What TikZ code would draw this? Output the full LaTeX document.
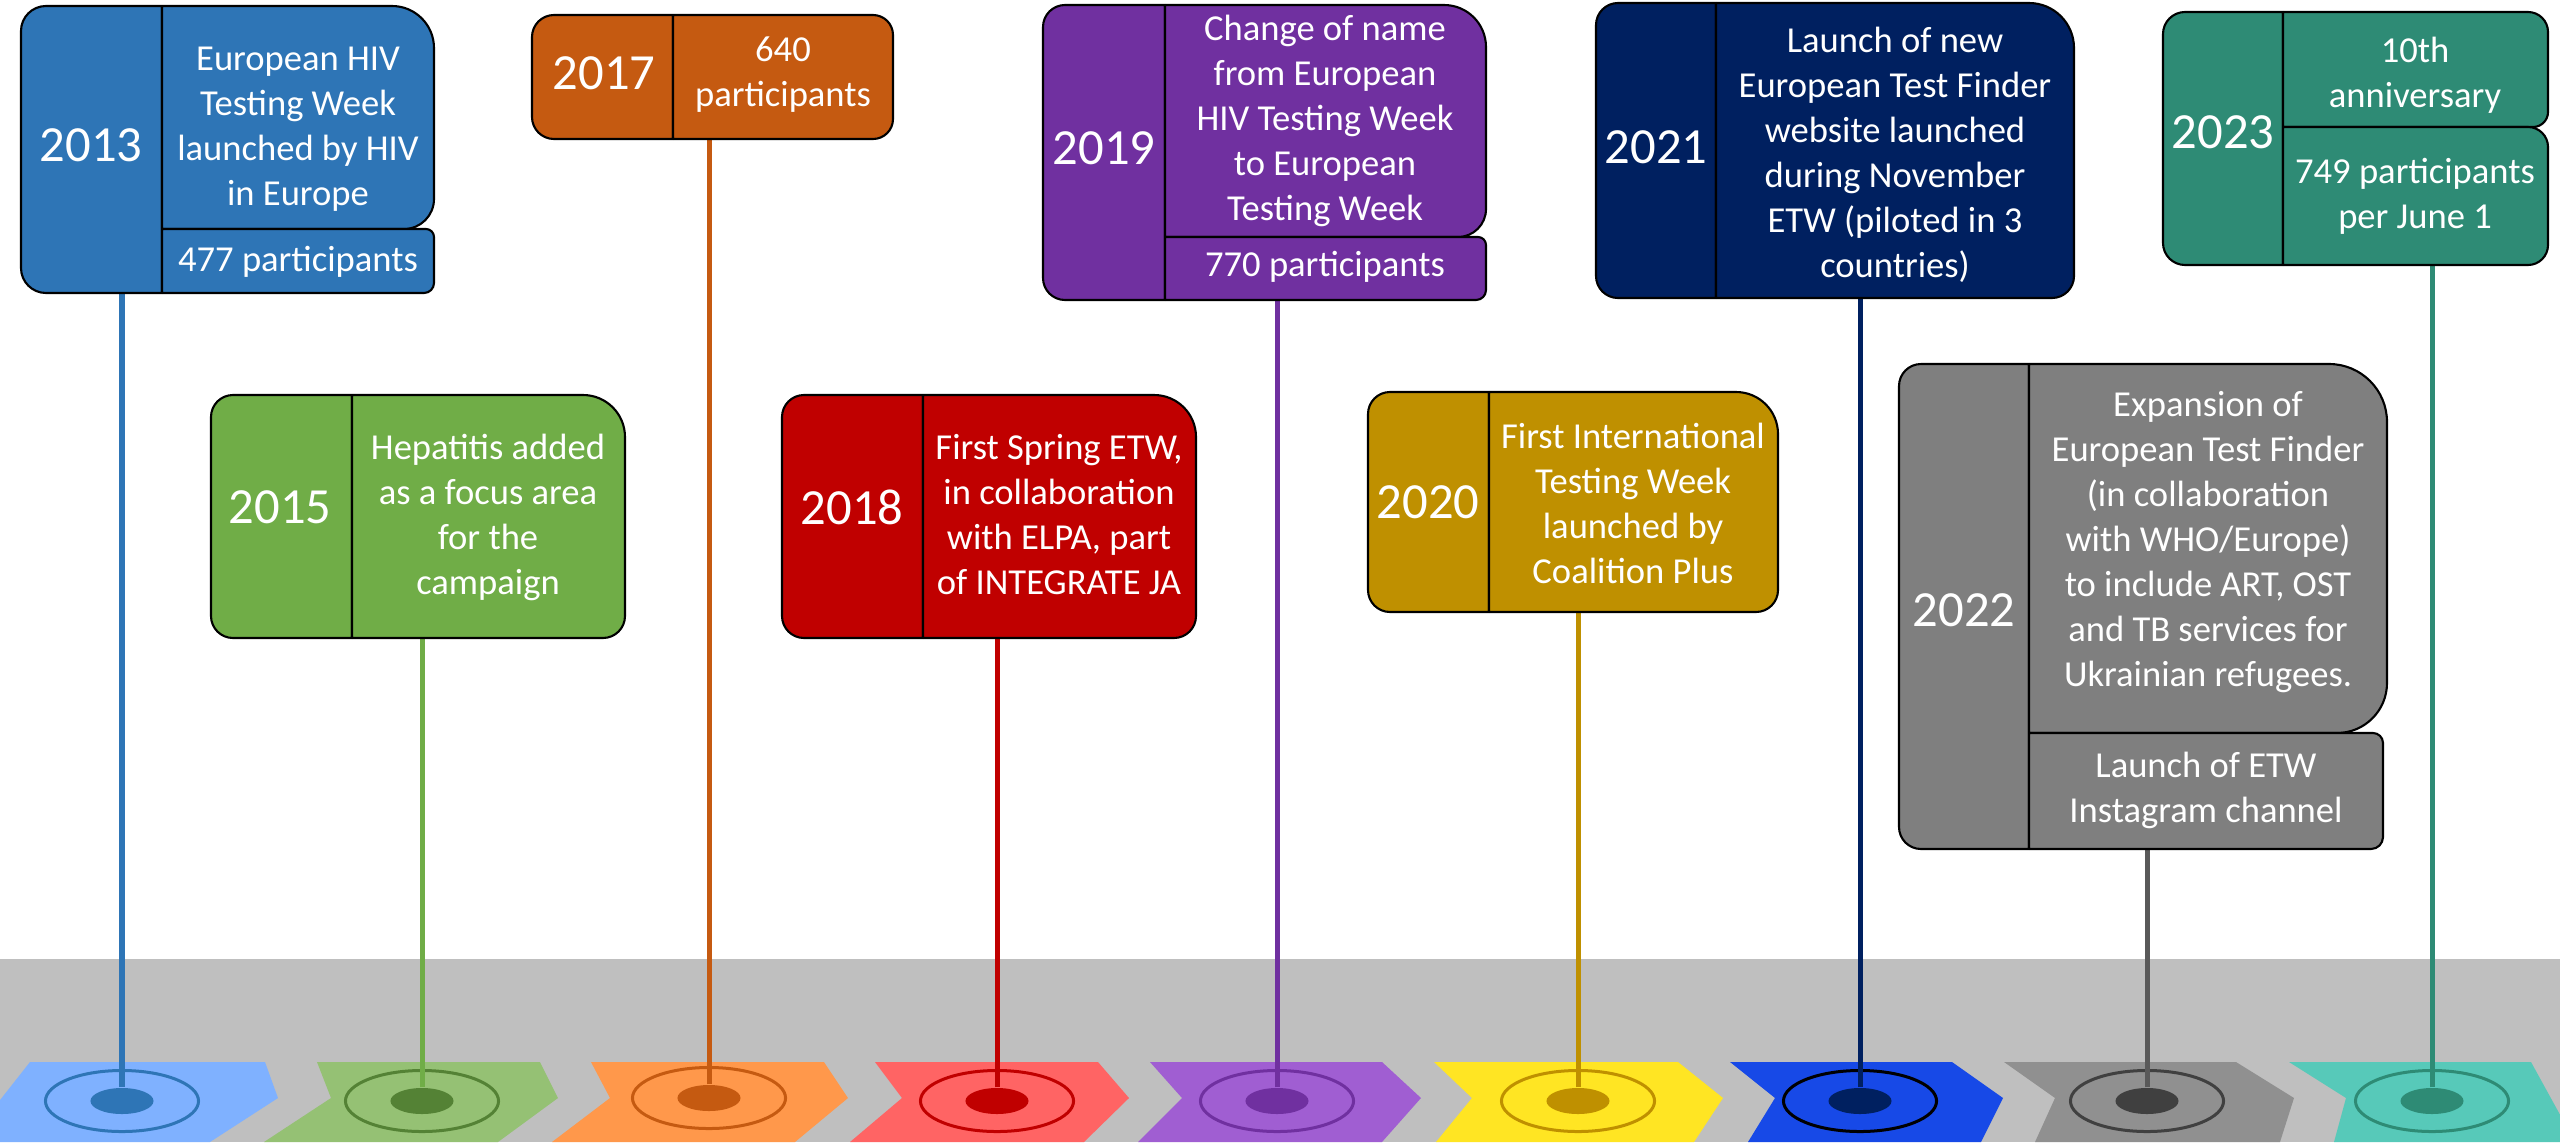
\documentclass[tikz,border=0pt]{standalone}
\usepackage{fontspec}
\setmainfont{Carlito}
\usepackage{tikz}
\usetikzlibrary{shapes.geometric}
\definecolor{c13}{HTML}{2E75B6}
\definecolor{c15}{HTML}{70AD47}
\definecolor{d15}{HTML}{548235}
\definecolor{c17}{HTML}{C55A11}
\definecolor{c18}{HTML}{C00000}
\definecolor{c19}{HTML}{7030A0}
\definecolor{c20}{HTML}{BF9000}
\definecolor{c21}{HTML}{002060}
\definecolor{c22}{HTML}{7F7F7F}
\definecolor{d22}{HTML}{404040}
\definecolor{s22}{HTML}{595959}
\definecolor{c23}{HTML}{2E8B75}
\definecolor{band}{HTML}{BFBFBF}
\definecolor{ch1}{HTML}{7FB1FF}
\definecolor{ch2}{HTML}{95C174}
\definecolor{ch3}{HTML}{FF984B}
\definecolor{ch4}{HTML}{FF6464}
\definecolor{ch5}{HTML}{A05ED2}
\definecolor{ch6}{HTML}{FFE523}
\definecolor{ch7}{HTML}{1749E7}
\definecolor{ch8}{HTML}{909090}
\definecolor{ch9}{HTML}{57C9B9}
% cell with its own radius per corner: (left,top,right,bottom)(tl,tr,br,bl)
\def\cardcell[#1](#2,#3,#4,#5)(#6,#7,#8,#9){\draw[#1] ({#2+#6},#3) -- ({#4-#7},#3) arc[start angle=270, end angle=360, radius=#7] -- (#4,{#5-#8}) arc[start angle=0, end angle=90, radius=#8] -- ({#2+#9},#5) arc[start angle=90, end angle=180, radius=#9] -- (#2,{#3+#6}) arc[start angle=180, end angle=270, radius=#6] -- cycle;}
\tikzset{
	card/.style={draw=black, line width=0.6pt, fill=#1},
	yeartxt/.style={text=white, inner sep=0pt, font=\fontsize{14.4}{17}\selectfont},
	evtxt/.style={text=white, inner sep=0pt, align=center, font=\fontsize{10.4}{12.8}\selectfont},
	ring/.style={ellipse, draw=#1, line width=0.03cm, minimum width=1.53cm, minimum height=0.61cm, inner sep=0pt},
	hub/.style={ellipse, fill=#1, minimum width=0.63cm, minimum height=0.26cm, inner sep=0pt},
	stem/.style={draw=#1, line width=0.05cm}
}

\begin{document}
\begin{tikzpicture}[x=0.01cm, y=-0.01cm]
			%%%%% START %%%%%
			\useasboundingbox (0,0) rectangle (2560,1142);
			\clip (0,0) rectangle (2560,1142);
			
			\fill[band] (0,959) rectangle (2560,1142);
			
			\fill[ch1] (30,1062) -- (265,1062) -- (278,1098) -- (210,1142) -- (-33,1142) -- cycle;
			\fill[ch2] (317,1062) -- (540,1062) -- (558,1098) -- (498,1142) -- (264,1142) -- (331,1098) -- cycle;
			\fill[ch3] (591,1062) -- (824,1062) -- (848,1098) -- (795,1142) -- (552,1142) -- (610,1098) -- cycle;
			\fill[ch4] (875,1062) -- (1098,1062) -- (1129,1098) -- (1084,1142) -- (850,1142) -- (902,1098) -- cycle;
			\fill[ch5] (1150,1062) -- (1382,1062) -- (1421,1098) -- (1382,1142) -- (1138,1142) -- (1182,1098) -- cycle;
			\fill[ch6] (1434,1062) -- (1678,1062) -- (1723,1098) -- (1694,1142) -- (1436,1142) -- (1472,1098) -- cycle;
			\fill[ch7] (1730,1062) -- (1952,1062) -- (2003,1098) -- (1981,1142) -- (1748,1142) -- (1775,1098) -- cycle;
			\fill[ch8] (2004,1062) -- (2236,1062) -- (2294,1098) -- (2280,1142) -- (2035,1142) -- (2055,1098) -- cycle;
			\fill[ch9] (2289,1062) -- (2531,1062) -- (2575,1142) -- (2334,1142) -- (2346,1098) -- cycle;
			
			% rings and hubs on the chevrons
			\node[ring=c13] (r13) at (122,1101) {};
			\node[ring=d15] (r15) at (422,1101) {};
			\node[ring=c17] (r17) at (709,1098) {};
			\node[ring=c18] (r18) at (997,1101) {};
			\node[ring=c19] (r19) at (1277,1101) {};
			\node[ring=c20] (r20) at (1578,1101) {};
			\node[ring=black] (r21) at (1860,1101) {};
			\node[ring=d22] (r22) at (2147,1101) {};
			\node[ring=c23] (r23) at (2432,1101) {};
			
			\node[hub=c13] (h13) at (r13) {};
			\node[hub=d15] (h15) at (r15) {};
			\node[hub=c17] (h17) at (r17) {};
			\node[hub=c18] (h18) at (r18) {};
			\node[hub=c19] (h19) at (r19) {};
			\node[hub=c20] (h20) at (r20) {};
			\node[hub=c21] (h21) at (r21) {};
			\node[hub=d22] (h22) at (r22) {};
			\node[hub=c23] (h23) at (r23) {};
			
			\coordinate (b13) at (122,293);
			\coordinate (b15) at (422,638);
			\coordinate (b17) at (709,139);
			\coordinate (b18) at (997,638);
			\coordinate (b19) at (1277,300);
			\coordinate (b20) at (1578,612);
			\coordinate (b21) at (1860,298);
			\coordinate (b22) at (2147,849);
			\coordinate (b23) at (2432,265);
			
			\draw[stem=c13] (h13) -- (b13);
			\draw[stem=c15] (h15) -- (b15);
			\draw[stem=c17] (h17) -- (b17);
			\draw[stem=c18] (h18) -- (b18);
			\draw[stem=c19] (h19) -- (b19);
			\draw[stem=c20] (h20) -- (b20);
			\draw[stem=c21] (h21) -- (b21);
			\draw[stem=s22] (h22) -- (b22);
			\draw[stem=c23] (h23) -- (b23);
			
			% 2013
			\cardcell[card=c13](21,6,162,293)(25,0.5,0.5,25)
			\cardcell[card=c13](162,6,434,229)(0.5,42,30,0.5)
			\cardcell[card=c13](162,229,434,293)(0.5,8,10,0.5)
			\node[yeartxt] (y13) at (91,145) {2013};
			\node[evtxt] (e13) at (298,129) {European HIV\\Testing Week\\launched by HIV\\in Europe};
			\node[evtxt] (p13) at (298,262) {477 participants};
			
			% 2015
			\cardcell[card=c15](211,395,352,638)(22,0.5,0.5,22)
			\cardcell[card=c15](352,395,625,638)(0.5,42,22,0.5)
			\node[yeartxt] (y15) at (280,507) {2015};
			\node[evtxt] (e15) at (488,517) {Hepatitis added\\as a focus area\\for the\\campaign};
			
			% 2017
			\cardcell[card=c17](532,15,673,139)(22,0.5,0.5,22)
			\cardcell[card=c17](673,15,893,139)(0.5,20,20,0.5)
			\node[yeartxt] (y17) at (604,73) {2017};
			\node[evtxt] (e17) at (783,75) {640\\participants};
			
			% 2018
			\cardcell[card=c18](782,395,923,638)(22,0.5,0.5,22)
			\cardcell[card=c18](923,395,1196,638)(0.5,42,22,0.5)
			\node[yeartxt] (y18) at (852,507) {2018};
			\node[evtxt] (e18) at (1059,515) {First Spring ETW,\\in collaboration\\with ELPA, part\\of INTEGRATE JA};
			
			% 2019
			\cardcell[card=c19](1043,5,1165,300)(22,0.5,0.5,22)
			\cardcell[card=c19](1165,5,1486,237)(0.5,42,28,0.5)
			\cardcell[card=c19](1165,237,1486,300)(0.5,8,10,0.5)
			\node[yeartxt] (y19) at (1104,148) {2019};
			\node[evtxt] (e19) at (1325,121) {Change of name\\from European\\HIV Testing Week\\to European\\Testing Week};
			\node[evtxt] (p19) at (1325,267) {770 participants};
			
			% 2020
			\cardcell[card=c20](1368,392,1489,612)(22,0.5,0.5,22)
			\cardcell[card=c20](1489,392,1778,612)(0.5,42,22,0.5)
			\node[yeartxt] (y20) at (1428,502) {2020};
			\node[evtxt] (e20) at (1633,503) {First International\\Testing Week\\launched by\\Coalition Plus};
			
			% 2021
			\cardcell[card=c21](1596,3,1716,298)(22,0.5,0.5,22)
			\cardcell[card=c21](1716,3,2074,298)(0.5,45,22,0.5)
			\node[yeartxt] (y21) at (1656,147) {2021};
			\node[evtxt] (e21) at (1895,155) {Launch of new\\European Test Finder\\website launched\\during November\\ETW (piloted in 3\\countries)};
			
			% 2022
			\cardcell[card=c22](1899,364,2029,849)(22,0.5,0.5,22)
			\cardcell[card=c22](2029,364,2387,733)(0.5,58,50,0.5)
			\cardcell[card=c22](2029,733,2383,849)(0.5,10,12,0.5)
			\node[yeartxt] (y22) at (1964,610) {2022};
			\node[evtxt] (e22) at (2208,542) {Expansion of\\European Test Finder\\(in collaboration\\with WHO/Europe)\\to include ART, OST\\and TB services for\\Ukrainian refugees.};
			\node[evtxt] (p22) at (2206,790) {Launch of ETW\\Instagram channel};
			
			% 2023
			\cardcell[card=c23](2163,12,2283,265)(22,0.5,0.5,22)
			\cardcell[card=c23](2283,12,2548,127)(0.5,20,15,0.5)
			\cardcell[card=c23](2283,127,2548,265)(0.5,20,20,0.5)
			\node[yeartxt] (y23) at (2223,132) {2023};
			\node[evtxt] (e23) at (2415,75) {10th\\anniversary};
			\node[evtxt] (p23) at (2415,196) {749 participants\\per June 1};
			
			%%%%% END %%%%%
\end{tikzpicture}
\end{document}
